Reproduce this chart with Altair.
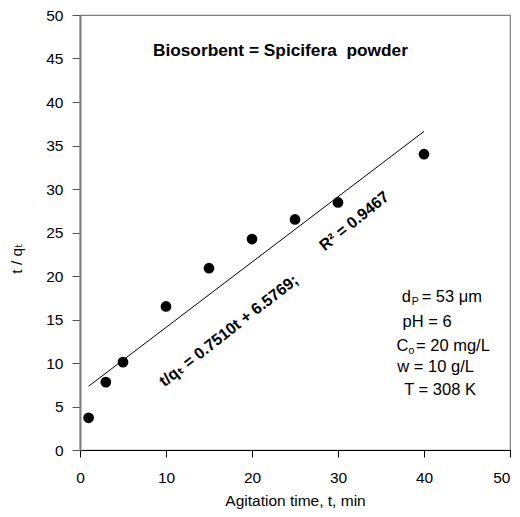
import altair as alt
import pandas as pd

# Data
time_min = [1, 3, 5, 10, 15, 20, 25, 30, 40]
t_over_qt = [3.7, 7.8, 10.1, 16.5, 20.9, 24.25, 26.5, 28.45, 34.0]

fit_time = [1, 40]
fit_value = [7.33, 36.62]

FONT = "Liberation Sans, Arial, DejaVu Sans"

pts = pd.DataFrame({"t": time_min, "v": t_over_qt})
fit = pd.DataFrame({"t": fit_time, "v": fit_value})

xs = alt.Scale(domain=[0, 50], nice=False)
ys = alt.Scale(domain=[0, 50], nice=False)

x_axis = alt.Axis(values=[0, 10, 20, 30, 40, 50], title="Agitation time, t, min",
                  grid=False, domainColor="black", domainWidth=1.2,
                  tickColor="black", tickSize=7, labelFontSize=15.5,
                  labelPadding=13, labelFont=FONT, labelColor="black", labelFlush=False,
                  labelAlign={"condition": {"test": "datum.value == 50", "value": "right"},
                              "value": "center"},
                  titleFont=FONT, titleFontSize=15.5, titleFontWeight="normal",
                  titleColor="black", titlePadding=8)
y_axis = alt.Axis(values=[0, 5, 10, 15, 20, 25, 30, 35, 40, 45, 50], title="t / qₜ",
                  grid=False, domainColor="#808080", domainWidth=2,
                  tickColor="#555555", tickSize=8, labelFontSize=15.5,
                  labelPadding=9, labelFont=FONT, labelColor="black", labelFlush=False,
                  titleFont=FONT, titleFontSize=15.5, titleFontWeight="normal",
                  titleColor="black", titleAngle=270, titleBaseline="middle",
                  titleX=-64, titleY=243)

points = alt.Chart(pts).mark_circle(size=115, color="black", opacity=1).encode(
    x=alt.X("t:Q", scale=xs, axis=x_axis),
    y=alt.Y("v:Q", scale=ys, axis=y_axis),
)

line = alt.Chart(fit).mark_line(color="black", strokeWidth=1).encode(
    x=alt.X("t:Q", scale=xs),
    y=alt.Y("v:Q", scale=ys),
)


def label(x, y, text, size=16.5, weight="normal", angle=0, align="left", dx=0, dy=0):
    df = pd.DataFrame({"x": [x], "y": [y], "txt": [text]})
    return alt.Chart(df).mark_text(
        font=FONT, fontSize=size, fontWeight=weight, angle=angle, align=align,
        baseline="middle", dx=dx, dy=dy, color="black"
    ).encode(x=alt.X("x:Q", scale=xs), y=alt.Y("y:Q", scale=ys), text="txt:N")


title = label(23.3, 45.9, "Biosorbent = Spicifera\u00a0 powder", size=17.3, weight="bold", align="center")
eq = label(17.3, 13.7, "t/qₜ = 0.7510t + 6.5769;", size=16, weight="bold", angle=322, align="center")
r2 = label(31.9, 26.3, "R² = 0.9467", size=16, weight="bold", angle=321, align="center")

anno = [
    label(37.4, 17.6, "d"),
    label(37.4, 17.6, "P", size=10.5, dx=10, dy=5),
    label(37.4, 17.6, "= 53 μm", dx=20),
    label(37.5, 14.7, "pH = 6"),
    label(36.8, 11.95, "C"),
    label(36.8, 11.95, "o", size=10.5, dx=12, dy=5),
    label(36.8, 11.95, "= 20 mg/L", dx=19.5),
    label(36.9, 9.54, "w = 10 g/L"),
    label(37.7, 6.9, "T = 308 K"),
]

chart = alt.layer(line, points, title, eq, r2, *anno).properties(
    width=430, height=435,
    autosize=alt.AutoSizeParams(type="none"),
    padding={"left": 72, "top": 7, "right": 2, "bottom": 59},
).configure_view(stroke="#808080", strokeWidth=1.2)

chart.save("out.html", embed_options={"renderer": "svg", "actions": False})
